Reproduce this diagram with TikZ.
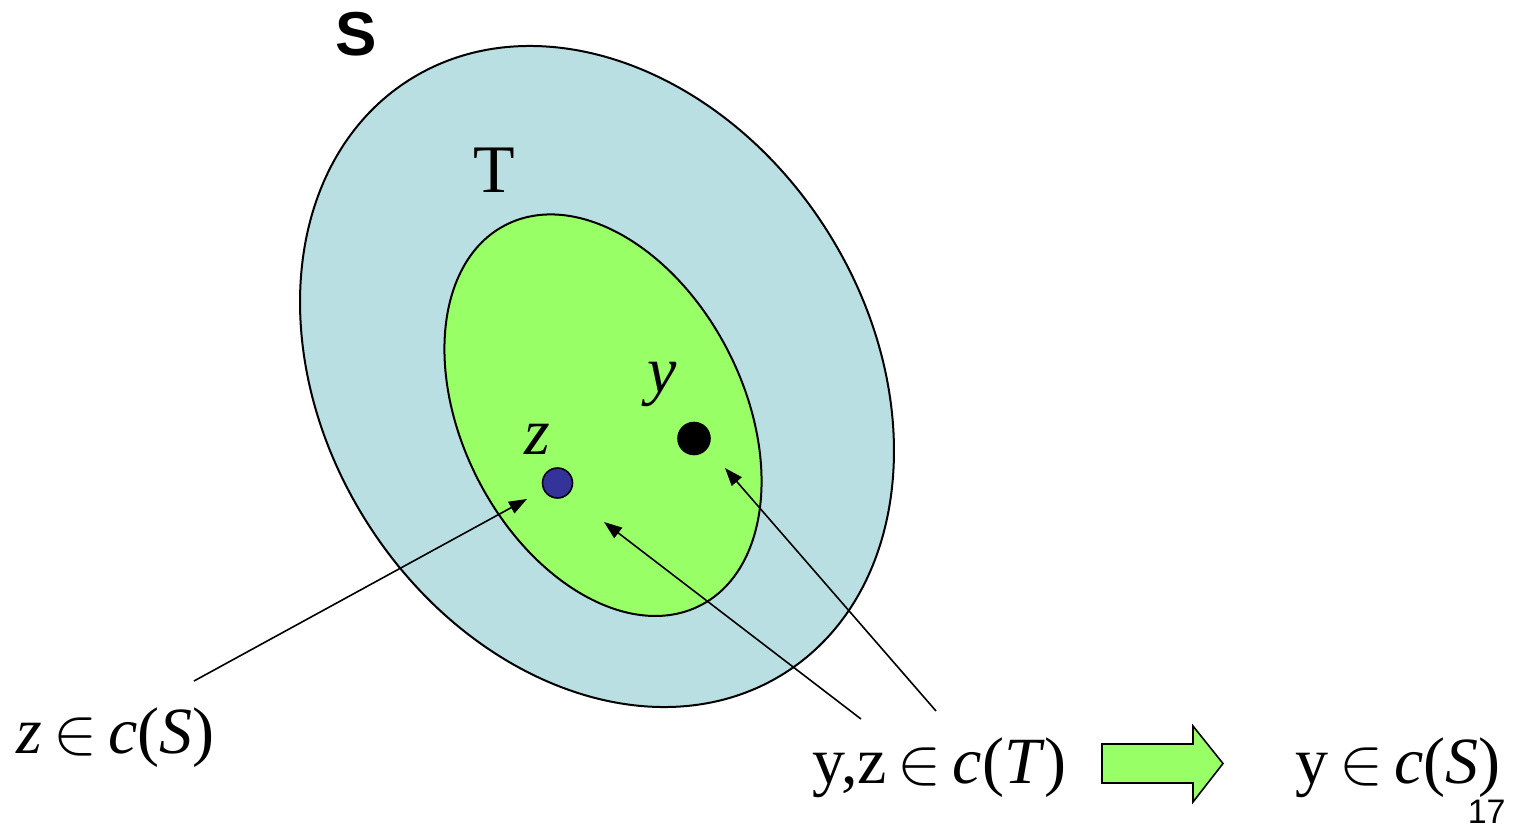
\RequirePackage{fix-cm}
\documentclass[tikz,border=0pt]{standalone}
\usepackage{fontspec}
\setmainfont{Liberation Serif}[ItalicFont={Liberation Serif Italic}]
\setsansfont{Liberation Sans}
\usetikzlibrary{arrows.meta}
\definecolor{PaleBlue}{HTML}{B9DFE2}
\definecolor{LimeGreen}{HTML}{99FF66}
\definecolor{DotBlue}{HTML}{333399}

\begin{document}
\begin{tikzpicture}[
  x=0.5pt, y=-0.5pt,
  setline/.style={draw=black, line width=1pt},
  dot/.style={circle, draw=black, line width=0.8pt, inner sep=0pt},
  lbl/.style={inner sep=0pt, font=\fontsize{33}{40}\selectfont},
  arrow/.style={-{Triangle[length=9pt,width=6.5pt]}, line width=0.8pt, draw=black}
]
\useasboundingbox (0,0) rectangle (1517,830);

% the two sets
\draw[setline, fill=PaleBlue, rotate around={32.3:(597,376.5)}] (597,376.5) ellipse [x radius=272.4, y radius=351];
\draw[setline, fill=LimeGreen, rotate around={27.1:(603,415.2)}] (603,415.2) ellipse [x radius=140.6, y radius=213.7];

\node[inner sep=0pt, font=\sffamily\bfseries\fontsize{31}{36}\selectfont] (nameS) at (356,34) {S};
\node[lbl, font=\fontsize{34}{40}\selectfont] (nameT) at (494,170) {T};

% the two elements
\node[dot, fill=black, minimum size=16pt] (doty) at (694,438.5) {};
\node[dot, fill=DotBlue, minimum size=15pt] (dotz) at (557.5,483) {};
\node[lbl] (namey) at (662,384) {\textit{y}};
\node[lbl] (namez) at (537,439) {\textit{z}};

% statements
\node[lbl, anchor=base west] (zinS) at (16,753) {\textit{z}\,$\in$\,\textit{c}(\textit{S})};
\node[lbl, anchor=base west] (yzinT) at (812,783) {y,z\,$\in$\,\textit{c}(\textit{T})};
\node[lbl, anchor=base west] (yinS) at (1295,783) {y\,$\in$\,\textit{c}(\textit{S})};
\node[inner sep=0pt, anchor=base east, font=\sffamily\fontsize{17}{20}\selectfont] (page) at (1506,823) {17};

% arrow ends
\coordinate (zfrom) at (194,681);
\coordinate (zto) at (527,499);
\coordinate (mfrom) at (861,719);
\coordinate (mto) at (604,522);
\coordinate (yfrom) at (936,711);
\coordinate (yto) at (725,468);

\draw[arrow] (zfrom) -- (zto);
\draw[arrow] (mfrom) -- (mto);
\draw[arrow] (yfrom) -- (yto);

% implies
\draw[setline, line width=0.8pt, fill=LimeGreen] (1102,744) -- (1193,744) -- (1193,726) -- (1223,763.5) -- (1193,802) -- (1193,783) -- (1102,783) -- cycle;
\end{tikzpicture}
\end{document}
